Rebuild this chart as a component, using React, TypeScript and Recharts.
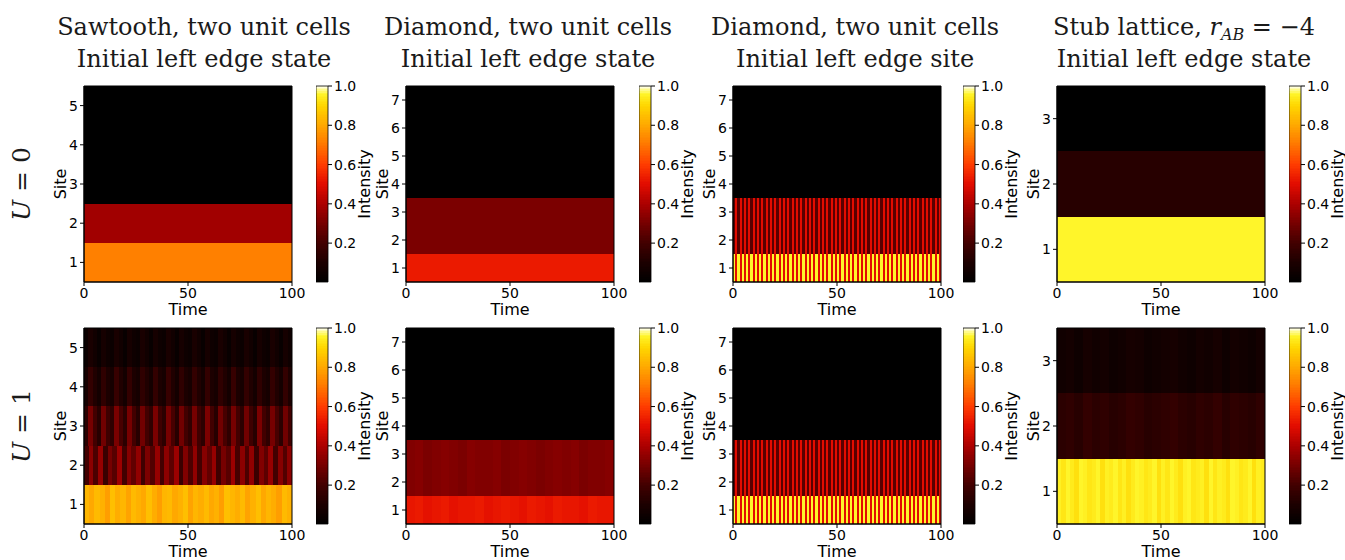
import React from 'react';
import { ComposedChart, XAxis, YAxis, ReferenceArea } from 'recharts';

// axis ticks
const timeTicks = [0, 50, 100];
const sawtoothSites = [1, 2, 3, 4, 5];
const diamondSites = [1, 2, 3, 4, 5, 6, 7];
const stubSites = [1, 2, 3];
const colorbarTicks = [0.2, 0.4, 0.6, 0.8, 1.0];
const colorbarMin = 0.002;

// colormap (black -> red -> orange -> yellow)
const cmapStops: [number, string][] = [
  [0, '#000000'],
  [0.1, '#1c0000'],
  [0.2, '#420000'],
  [0.3, '#760000'],
  [0.4, '#ac0000'],
  [0.5, '#e20c00'],
  [0.6, '#ff3c00'],
  [0.7, '#ff7600'],
  [0.8, '#ffa800'],
  [0.9, '#ffd600'],
  [0.96, '#fff52a'],
  [1, '#fffff0'],
];

// intensity per site, columns spread evenly over time 0..100
// U = 0
const sawU0 = [[0.72], [0.38], [0], [0], [0]];
const diaStateU0 = [[0.53], [0.31], [0.31], [0], [0], [0], [0]];
const stubU0 = [[0.96], [0.13], [0]];

// diamond, edge site: fast oscillation (same in both rows)
const diaSite1 = [
  0.96, 0.5, 0.96, 0.5, 0.96, 0.5, 0.96, 0.5, 0.96, 0.5, 0.96, 0.5, 0.96, 0.5, 0.96, 0.5,
  0.96, 0.5, 0.96, 0.5, 0.96, 0.5, 0.96, 0.5, 0.96, 0.5, 0.96, 0.5, 0.96, 0.5, 0.96, 0.5,
  0.96, 0.5, 0.96, 0.5, 0.96, 0.5, 0.96, 0.5, 0.96, 0.5, 0.96, 0.5, 0.96, 0.5, 0.96, 0.5,
  0.96, 0.5, 0.96, 0.5, 0.96, 0.5, 0.96, 0.5, 0.96, 0.5, 0.96, 0.5, 0.96, 0.5, 0.96, 0.5,
  0.96, 0.5, 0.96, 0.5, 0.96, 0.5, 0.96, 0.5, 0.96, 0.5, 0.96, 0.5, 0.96, 0.5, 0.96, 0.5,
  0.96, 0.5, 0.96, 0.5, 0.96, 0.5, 0.96, 0.5, 0.96, 0.5, 0.96, 0.5, 0.96, 0.5, 0.96, 0.5,
];
const diaSite23 = [
  0.24, 0.5, 0.24, 0.5, 0.24, 0.5, 0.24, 0.5, 0.24, 0.5, 0.24, 0.5, 0.24, 0.5, 0.24, 0.5,
  0.24, 0.5, 0.24, 0.5, 0.24, 0.5, 0.24, 0.5, 0.24, 0.5, 0.24, 0.5, 0.24, 0.5, 0.24, 0.5,
  0.24, 0.5, 0.24, 0.5, 0.24, 0.5, 0.24, 0.5, 0.24, 0.5, 0.24, 0.5, 0.24, 0.5, 0.24, 0.5,
  0.24, 0.5, 0.24, 0.5, 0.24, 0.5, 0.24, 0.5, 0.24, 0.5, 0.24, 0.5, 0.24, 0.5, 0.24, 0.5,
  0.24, 0.5, 0.24, 0.5, 0.24, 0.5, 0.24, 0.5, 0.24, 0.5, 0.24, 0.5, 0.24, 0.5, 0.24, 0.5,
  0.24, 0.5, 0.24, 0.5, 0.24, 0.5, 0.24, 0.5, 0.24, 0.5, 0.24, 0.5, 0.24, 0.5, 0.24, 0.5,
];
const diaSiteU0 = [diaSite1, diaSite23, diaSite23, [0], [0], [0], [0]];

// U = 1
const sawU1Site1 = [
  0.83, 0.8, 0.84, 0.82, 0.78, 0.85, 0.81, 0.83, 0.79, 0.84, 0.82, 0.8, 0.85, 0.81, 0.78, 0.83,
  0.84, 0.8, 0.82, 0.85, 0.79, 0.83, 0.81, 0.84, 0.8, 0.82, 0.78, 0.85, 0.83, 0.81, 0.84, 0.79,
  0.82, 0.85, 0.8, 0.83, 0.81, 0.78, 0.84, 0.82,
];
const sawU1Site2 = [
  0.2, 0.34, 0.22, 0.36, 0.18, 0.3, 0.24, 0.37, 0.2, 0.33, 0.26, 0.35, 0.19, 0.31, 0.23, 0.36,
  0.2, 0.34, 0.25, 0.37, 0.18, 0.32, 0.22, 0.35, 0.2, 0.33, 0.26, 0.36, 0.19, 0.3, 0.24, 0.37,
  0.21, 0.34, 0.22, 0.35, 0.18, 0.32, 0.25, 0.36, 0.2, 0.33, 0.23, 0.34,
];
const sawU1Site3 = [
  0.14, 0.3, 0.2, 0.13, 0.29, 0.19, 0.15, 0.31, 0.21, 0.14, 0.3, 0.2, 0.13, 0.29, 0.2, 0.15,
  0.31, 0.19, 0.14, 0.3, 0.21, 0.13, 0.29, 0.2, 0.15, 0.3, 0.19, 0.14, 0.31, 0.2, 0.13, 0.29,
  0.21, 0.15, 0.3, 0.2, 0.14, 0.29, 0.19, 0.13, 0.31, 0.2, 0.15, 0.3, 0.21, 0.14, 0.29, 0.2,
];
const sawU1Site4 = [
  0.08, 0.16, 0.11, 0.07, 0.15, 0.1, 0.08, 0.17, 0.11, 0.07, 0.16, 0.1, 0.08, 0.15, 0.11, 0.07,
  0.16, 0.1, 0.08, 0.17, 0.11, 0.07, 0.15, 0.1, 0.08, 0.16, 0.11, 0.07, 0.16, 0.1, 0.08, 0.15,
  0.11, 0.07, 0.17, 0.1, 0.08, 0.16, 0.11, 0.07, 0.15, 0.1, 0.08, 0.16, 0.11, 0.07, 0.16, 0.1,
];
const sawU1Site5 = [
  0.04, 0.09, 0.06, 0.03, 0.08, 0.05, 0.04, 0.09, 0.06, 0.03, 0.08, 0.05, 0.04, 0.09, 0.06, 0.03,
  0.08, 0.05, 0.04, 0.09, 0.06, 0.03, 0.08, 0.05, 0.04, 0.09, 0.06, 0.03, 0.08, 0.05, 0.04, 0.09,
  0.06, 0.03, 0.08, 0.05, 0.04, 0.09, 0.06, 0.03, 0.08, 0.05, 0.04, 0.09, 0.06, 0.03, 0.08, 0.05,
];
const sawU1 = [sawU1Site1, sawU1Site2, sawU1Site3, sawU1Site4, sawU1Site5];

const diaU1Site1 = [
  0.52, 0.53, 0.51, 0.52, 0.53, 0.51, 0.52, 0.52, 0.53, 0.51, 0.52, 0.53,
  0.52, 0.51, 0.53, 0.52, 0.51, 0.53, 0.52, 0.52, 0.51, 0.53, 0.52, 0.52,
];
const diaU1Site23 = [
  0.32, 0.33, 0.31, 0.32, 0.33, 0.32, 0.31, 0.33, 0.32, 0.32, 0.33, 0.31,
  0.32, 0.33, 0.32, 0.31, 0.32, 0.33, 0.32, 0.33, 0.31, 0.32, 0.32, 0.33,
];
const diaStateU1 = [diaU1Site1, diaU1Site23, diaU1Site23, [0], [0], [0], [0]];
const diaSiteU1 = [diaSite1, diaSite23, diaSite23, [0], [0], [0], [0]];

const stubU1Site1 = [
  0.95, 0.93, 0.96, 0.94, 0.92, 0.96, 0.95, 0.93, 0.94, 0.96, 0.92, 0.95, 0.94, 0.96, 0.93, 0.95,
  0.92, 0.94, 0.96, 0.95, 0.93, 0.94, 0.96, 0.92, 0.95, 0.93, 0.96, 0.94, 0.92, 0.95, 0.96, 0.93,
  0.94, 0.95, 0.92, 0.96, 0.93, 0.95, 0.94, 0.92, 0.96, 0.95, 0.93, 0.94, 0.96, 0.92, 0.95, 0.94,
];
const stubU1Site2 = [
  0.14, 0.15, 0.13, 0.16, 0.14, 0.15, 0.13, 0.14, 0.16, 0.15, 0.13, 0.14,
  0.15, 0.16, 0.14, 0.13, 0.15, 0.14, 0.16, 0.13, 0.15, 0.14, 0.13, 0.15,
];
const stubU1Site3 = [
  0.06, 0.07, 0.05, 0.08, 0.06, 0.07, 0.05, 0.06, 0.08, 0.07, 0.05, 0.06,
  0.07, 0.08, 0.06, 0.05, 0.07, 0.06, 0.08, 0.05, 0.07, 0.06, 0.05, 0.07,
];
const stubU1 = [stubU1Site1, stubU1Site2, stubU1Site3];

// layout
const plotLefts = [84, 406, 733, 1057];
const barLefts = [316, 639, 963, 1289];
const titleCenters = [204, 528, 855, 1184];
const rowTops = [86, 328];
const PW = 208;
const PH = 196;
const BW = 12;
const BAR_STEPS = 120;

const hex = (n: number) => Math.round(n).toString(16).padStart(2, '0');
function colorOf(v: number) {
  for (let i = 1; i < cmapStops.length; i++) {
    const [v1, c1] = cmapStops[i];
    const [v0, c0] = cmapStops[i - 1];
    if (v <= v1) {
      const f = (v - v0) / (v1 - v0);
      let out = '#';
      for (let k = 1; k < 7; k += 2) {
        const a = parseInt(c0.slice(k, k + 2), 16);
        const b = parseInt(c1.slice(k, k + 2), 16);
        out += hex(a + (b - a) * f);
      }
      return out;
    }
  }
  return cmapStops[cmapStops.length - 1][1];
}

function AxisTitle(props: any) {
  const { viewBox, text, kind } = props;
  const { x, y, width, height } = viewBox;
  if (kind === 'x') {
    return (
      <text x={x + width / 2} y={y + 33} textAnchor="middle" fontSize={16} fill="#000">
        {text}
      </text>
    );
  }
  const cx = kind === 'y' ? x + width - 24 : x + 36;
  const cy = y + height / 2;
  return (
    <text x={cx} y={cy} transform={`rotate(-90 ${cx} ${cy})`} textAnchor="middle" dominantBaseline="central" fontSize={16} fill="#000">
      {text}
    </text>
  );
}

const tickStyle = { fontSize: 14, fill: '#000' };

function Heatmap({ sites, ticks, left, top }: { sites: number[][]; ticks: number[]; left: number; top: number }) {
  const n = sites.length;
  return (
    <div style={{ position: 'absolute', left: left - 60, top: top - 8 }}>
      <ComposedChart width={PW + 80} height={PH + 53} margin={{ top: 8, right: 20, bottom: 0, left: 0 }}>
        <XAxis
          type="number"
          dataKey="t"
          domain={[0, 100]}
          ticks={timeTicks}
          height={45}
          tick={tickStyle}
          tickSize={4}
          tickMargin={2}
          stroke="#000"
          allowDataOverflow
          label={<AxisTitle text="Time" kind="x" />}
        />
        <YAxis
          type="number"
          domain={[0.5, n + 0.5]}
          ticks={ticks}
          width={60}
          tick={tickStyle}
          tickSize={4}
          tickMargin={2}
          stroke="#000"
          allowDataOverflow
          label={<AxisTitle text="Site" kind="y" />}
        />
        <ReferenceArea x1={0} x2={100} y1={0.5} y2={n + 0.5} fill="#000" fillOpacity={1} stroke="none" />
        {sites.flatMap((cols, s) =>
          cols.map((v, j) => (
            <ReferenceArea
              key={`${s}-${j}`}
              x1={(j * 100) / cols.length}
              x2={Math.min(100, ((j + 1) * 100) / cols.length + 0.3)}
              y1={s + 0.5}
              y2={s + 1.5}
              fill={colorOf(v)}
              fillOpacity={1}
              stroke="none"
              shapeRendering="crispEdges"
            />
          ))
        )}
        <ReferenceArea x1={0} x2={100} y1={0.5} y2={n + 0.5} fill="none" stroke="#000" strokeWidth={1} />
      </ComposedChart>
    </div>
  );
}

function Colorbar({ left, top }: { left: number; top: number }) {
  const step = (1 - colorbarMin) / BAR_STEPS;
  const levels = Array.from({ length: BAR_STEPS }, (_, i) => colorbarMin + i * step);
  return (
    <div style={{ position: 'absolute', left, top: top - 8 }}>
      <ComposedChart width={BW + 70} height={PH + 53} margin={{ top: 8, right: 0, bottom: 44, left: 0 }}>
        <XAxis type="number" dataKey="t" domain={[0, 1]} height={1} tick={false} tickLine={false} axisLine={false} allowDataOverflow />
        <YAxis
          orientation="right"
          type="number"
          domain={[colorbarMin, 1]}
          ticks={colorbarTicks}
          width={70}
          tick={tickStyle}
          tickSize={4}
          tickMargin={2}
          stroke="#000"
          axisLine={false}
          tickFormatter={(v: number) => v.toFixed(1)}
          allowDataOverflow
          label={<AxisTitle text="Intensity" kind="bar" />}
        />
        {levels.map((lv) => (
          <ReferenceArea
            key={lv}
            x1={0}
            x2={1}
            y1={lv}
            y2={Math.min(1, lv + step * 1.5)}
            fill={colorOf(lv + step / 2)}
            fillOpacity={1}
            stroke="none"
            shapeRendering="crispEdges"
          />
        ))}
        <ReferenceArea x1={0} x2={1} y1={colorbarMin} y2={1} fill="none" stroke="#000" strokeWidth={0.8} />
      </ComposedChart>
    </div>
  );
}

const titleStyle: React.CSSProperties = {
  position: 'absolute',
  top: 11,
  width: 360,
  textAlign: 'center',
  fontFamily: '"DejaVu Serif", serif',
  fontSize: 24,
  lineHeight: '32px',
  color: '#1a1a1a',
  whiteSpace: 'nowrap',
};

const titleLine: React.CSSProperties = { height: 32, overflow: 'visible' };

const rowLabelStyle: React.CSSProperties = {
  position: 'absolute',
  width: 100,
  height: 34,
  lineHeight: '34px',
  textAlign: 'center',
  fontFamily: '"DejaVu Serif", serif',
  fontSize: 25,
  transform: 'rotate(-90deg)',
  color: '#1a1a1a',
};

export default function App() {
  const panels = [
    [sawU0, diaStateU0, diaSiteU0, stubU0],
    [sawU1, diaStateU1, diaSiteU1, stubU1],
  ];
  const tickSets = [sawtoothSites, diamondSites, diamondSites, stubSites];
  const titles: React.ReactNode[][] = [
    ['Sawtooth, two unit cells', 'Initial left edge state'],
    ['Diamond, two unit cells', 'Initial left edge state'],
    ['Diamond, two unit cells', 'Initial left edge site'],
    [
      <span key="s">
        Stub lattice, <i>r</i>
        <i style={{ fontSize: 16, position: 'relative', top: 5, lineHeight: 0 }}>AB</i> = −4
      </span>,
      'Initial left edge state',
    ],
  ];
  const rowLabels = ['0', '1'];
  return (
    <div style={{ position: 'absolute', left: 0, top: 0, width: 1345, height: 560, background: '#fff', fontFamily: '"DejaVu Sans", sans-serif', overflow: 'hidden' }}>
      {titles.map((t, c) => (
        <div key={c} style={{ ...titleStyle, left: titleCenters[c] - 180 }}>
          <div style={titleLine}>{t[0]}</div>
          <div style={titleLine}>{t[1]}</div>
        </div>
      ))}
      {rowLabels.map((u, r) => (
        <div key={u} style={{ ...rowLabelStyle, left: 22 - 50, top: rowTops[r] + PH / 2 - 17 }}>
          <i>U</i> = {u}
        </div>
      ))}
      {panels.map((row, r) =>
        row.map((sites, c) => (
          <React.Fragment key={`${r}-${c}`}>
            <Heatmap sites={sites} ticks={tickSets[c]} left={plotLefts[c]} top={rowTops[r]} />
            <Colorbar left={barLefts[c]} top={rowTops[r]} />
          </React.Fragment>
        ))
      )}
    </div>
  );
}
